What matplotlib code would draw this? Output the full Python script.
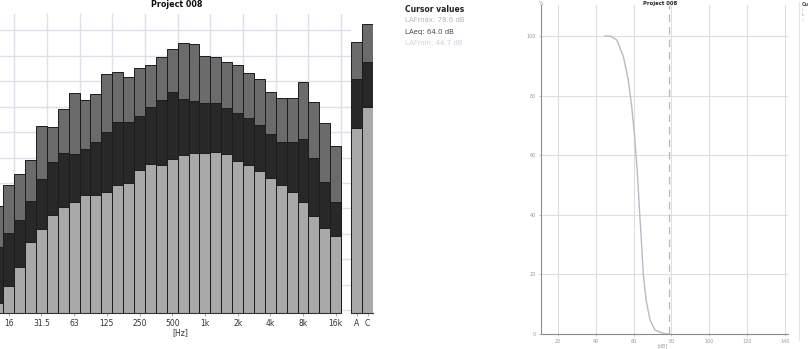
import numpy as np
import matplotlib
matplotlib.use("Agg")
import matplotlib.pyplot as plt
from matplotlib.ticker import MultipleLocator

# 1/3 octave band levels (dB), 12.5 Hz .. 16 kHz
bands = ["12.5", "16", "20", "25", "31.5", "40", "50", "63", "80", "100", "125",
         "160", "200", "250", "315", "400", "500", "630", "800", "1k", "1.25k",
         "1.6k", "2k", "2.5k", "3.15k", "4k", "5k", "6.3k", "8k", "10k", "12.5k", "16k"]
band_max = [14.3, 22.4, 26.6, 32.2, 45.6, 45.2, 52.1, 58.6, 55.8, 58.0, 66.0,
            66.7, 64.7, 68.4, 69.5, 72.8, 75.6, 78.2, 77.9, 73.2, 72.6,
            70.8, 69.5, 66.2, 64.1, 58.9, 56.7, 56.7, 63.0, 55.1, 46.6, 37.9]
band_eq = [-1.8, 3.5, 8.7, 16.2, 24.7, 31.6, 34.8, 34.6, 36.4, 39.4, 43.1,
           47.3, 47.1, 49.5, 52.9, 55.8, 59.0, 56.0, 55.2, 54.7, 54.7,
           52.5, 50.5, 48.6, 45.8, 42.4, 39.4, 39.4, 40.3, 33.2, 23.7, 15.9]
band_min = [-24.0, -17.4, -9.6, 0.2, 5.0, 10.7, 13.9, 15.6, 18.6, 18.5, 19.8,
            22.6, 23.1, 28.3, 30.7, 30.4, 32.8, 34.1, 35.0, 35.0, 35.2,
            34.7, 32.0, 30.3, 28.1, 25.0, 22.4, 19.8, 15.9, 10.4, 5.4, 2.6]
tick_bands = ["16", "31.5", "63", "125", "250", "500", "1k", "2k", "4k", "8k", "16k"]

# broadband A / C weighted
weights = ["A", "C"]
wt_max = [78.6, 85.4]
wt_eq = [64.0, 70.8]
wt_min = [44.7, 53.2]

# level distribution: % of time the level was exceeded
dist_level = [44.7, 47.5, 51.1, 54.6, 57.2, 59.0, 60.7, 62.0, 63.0, 64.1,
              65.1, 66.6, 68.7, 71.3, 75.7, 78.6]
dist_pct = [100, 100, 98.7, 93.1, 85.2, 76.3, 65.1, 53.9, 42.7, 31.5,
            20.4, 11.4, 4.7, 1.3, 0.2, 0]

c_max = "#6b6b6b"
c_eq = "#282828"
c_min = "#a9a9a9"
c_edge = "#1c1c1c"
c_grid = "#dde0e8"

W, H = 810, 349
def fx(px):
    return px / W
def fy(py):
    return 1 - py / H

fig = plt.figure(figsize=(W / 100, H / 100), dpi=100)
fig.patch.set_facecolor("white")

base = -27.8
top = 89.5
x = np.arange(len(bands))

# spectrum
ax = fig.add_axes([0, fy(313), fx(351), fy(14) - fy(313)])
for vals, col in [(band_max, c_max), (band_eq, c_eq), (band_min, c_min)]:
    ax.bar(x, np.array(vals) - base, bottom=base, width=1.0, color=col,
           edgecolor=c_edge, linewidth=0.7, zorder=2)
ax.set_xlim(0.2, 32.4)
ax.set_ylim(base, top)
ax.set_xticks([bands.index(b) for b in tick_bands])
ax.set_xticklabels(tick_bands)
ax.set_xticks(np.arange(1.5, 32, 3), minor=True)
ax.yaxis.set_major_locator(MultipleLocator(10, offset=3.2))
ax.grid(which="minor", axis="x", color=c_grid, lw=1.0, zorder=0)
ax.grid(which="major", axis="y", color=c_grid, lw=1.0, zorder=0)
ax.tick_params(axis="x", which="major", length=2, width=0.6, color="#999999",
               labelsize=5.5, labelcolor="#333333", pad=2)
ax.tick_params(axis="x", which="minor", length=0)
ax.tick_params(axis="y", left=False, labelleft=False)
for s in ["left", "top", "right"]:
    ax.spines[s].set_visible(False)
ax.spines["bottom"].set_bounds(-0.5, 31.5)
ax.spines["bottom"].set_color("#333333")
ax.spines["bottom"].set_linewidth(0.8)
fig.text(fx(180), fy(333), "[Hz]", fontsize=5.5, color="#333333",
         ha="center", va="center")
fig.text(fx(177), fy(7), "Project 008", fontsize=5.8, fontweight="bold",
         ha="center", va="baseline", color="#111111")

# A / C totals
ax2 = fig.add_axes([fx(351), fy(313), fx(373) - fx(351), fy(14) - fy(313)])
xw = np.arange(len(weights))
for vals, col in [(wt_max, c_max), (wt_eq, c_eq), (wt_min, c_min)]:
    ax2.bar(xw, np.array(vals) - base, bottom=base, width=1.0, color=col,
            edgecolor=c_edge, linewidth=0.7, zorder=2)
ax2.set_xlim(-0.5, 1.5)
ax2.set_ylim(base, top)
ax2.set_xticks(xw)
ax2.set_xticklabels(weights)
ax2.tick_params(axis="x", length=2, width=0.6, color="#999999",
                labelsize=5.5, labelcolor="#333333", pad=2)
ax2.tick_params(axis="y", left=False, labelleft=False)
for s in ["left", "top", "right"]:
    ax2.spines[s].set_visible(False)
ax2.spines["bottom"].set_color("#333333")
ax2.spines["bottom"].set_linewidth(0.8)

# cursor readout
fig.text(fx(405), fy(9), "Cursor values", fontsize=5.5, fontweight="bold",
         color="#222222", va="center")
fig.text(fx(405), fy(20), "LAFmax: %.1f dB" % wt_max[0], fontsize=5.0,
         color="#b3b7bf", va="center")
fig.text(fx(405), fy(32), "LAeq: %.1f dB" % wt_eq[0], fontsize=5.0,
         color="#4a4a4a", va="center")
fig.text(fx(405), fy(43), "LAFmin: %.1f dB" % wt_min[0], fontsize=5.0,
         color="#cdd2db", va="center")

# level distribution
ax3 = fig.add_axes([fx(541), fy(334), fx(788) - fx(541), fy(5) - fy(334)])
ax3.plot(dist_level, dist_pct, color="#b6bbc6", lw=1.0, zorder=3)
ax3.axvline(wt_max[0], color="#b8b8b8", lw=0.9, ls=(0, (6, 4)), zorder=2)
ax3.set_xlim(11, 141.7)
ax3.set_ylim(0, 110.4)
ax3.set_xticks(range(20, 141, 20))
ax3.set_yticks(range(0, 101, 20))
ax3.grid(color="#dedede", lw=0.8, zorder=0)
ax3.tick_params(length=1.5, width=0.5, color="#aaaaaa", labelsize=3.5,
                labelcolor="#999999", pad=2)
for s in ["top", "right"]:
    ax3.spines[s].set_visible(False)
for s in ["left", "bottom"]:
    ax3.spines[s].set_color("#8c8c8c")
    ax3.spines[s].set_linewidth(0.8)
fig.text(fx(541.5), fy(3.5), "%", fontsize=3.5, color="#888888",
         ha="center", va="center")
fig.text(fx(663), fy(345.5), "[dB]", fontsize=3.5, color="#999999",
         ha="center", va="center")
fig.text(fx(660), fy(4.5), "Project 008", fontsize=3.8, fontweight="bold",
         ha="center", va="baseline", color="#222222")

# neighbouring readout panel, cut by the page edge
fig.add_artist(plt.Line2D([fx(799), fx(799)], [fy(2), fy(340)],
                          color="#e6e6e6", lw=0.8))
fig.text(fx(802), fy(4), "Cu", fontsize=3.5, fontweight="bold",
         color="#444444", va="center")
fig.text(fx(802), fy(10), "L", fontsize=3.2, color="#bbbbbb", va="center")
fig.text(fx(802), fy(15), "L", fontsize=3.2, color="#888888", va="center")
fig.text(fx(802), fy(20), "L", fontsize=3.2, color="#cccccc", va="center")

fig.savefig("out.png", dpi=100, facecolor="white")
